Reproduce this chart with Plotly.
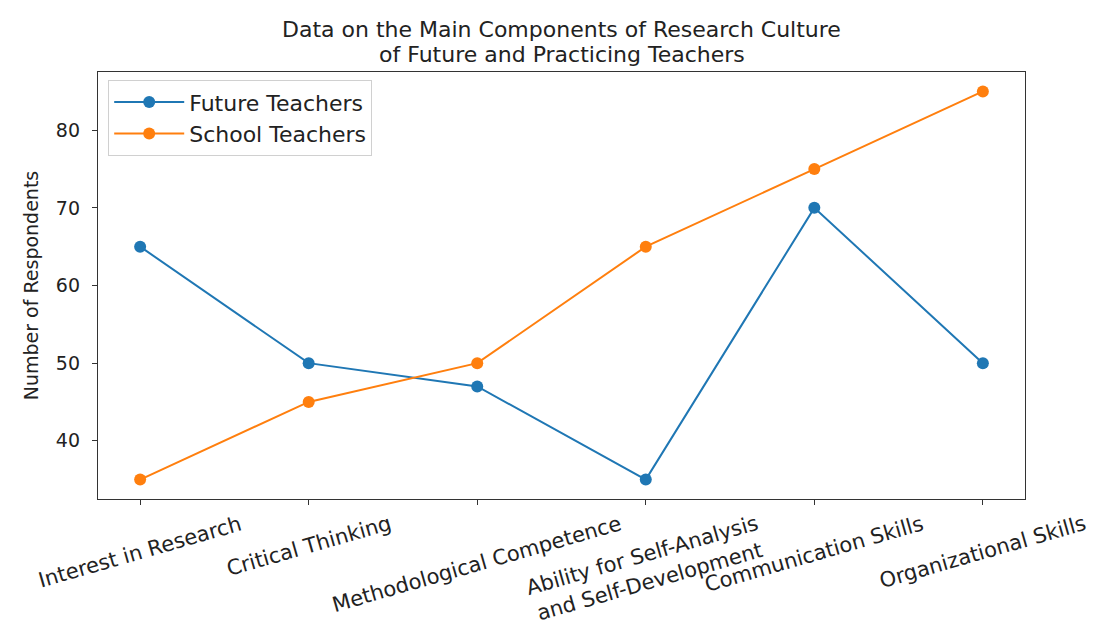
import plotly.graph_objects as go

categories = ["Interest in Research", "Critical Thinking", "Methodological Competence",
              "Ability for Self-Analysis and Self-Development", "Communication Skills",
              "Organizational Skills"]
tick_labels = ["Interest in Research", "Critical Thinking", "Methodological Competence",
               "Ability for Self-Analysis<br>and Self-Development", "Communication Skills",
               "Organizational Skills"]
future_teachers = [65, 50, 47, 35, 70, 50]
school_teachers = [35, 45, 50, 65, 75, 85]
y_ticks = [40, 50, 60, 70, 80]
title_lines = ["Data on the Main Components of Research Culture",
               "of Future and Practicing Teachers"]

BLUE = "#1f77b4"
ORANGE = "#ff7f0e"
FONT = "DejaVu Sans"

fig = go.Figure()
fig.add_trace(go.Scatter(x=categories, y=future_teachers, mode="lines+markers",
                         name="Future Teachers",
                         line=dict(color=BLUE, width=2),
                         marker=dict(color=BLUE, size=12)))
fig.add_trace(go.Scatter(x=categories, y=school_teachers, mode="lines+markers",
                         name="School Teachers",
                         line=dict(color=ORANGE, width=2),
                         marker=dict(color=ORANGE, size=12)))

annotations = []
for cat, lab in zip(categories, tick_labels):
    annotations.append(dict(x=cat, y=0, xref="x", yref="paper", text=lab,
                            showarrow=False, textangle=-16, xanchor="center",
                            yanchor="top", yshift=-11, align="center", borderpad=0,
                            font=dict(family=FONT, size=21, color="#222222")))
annotations.append(dict(x=0.5, y=1 + 43 / 427, xref="paper", yref="paper",
                        text=title_lines[0], showarrow=False, xanchor="center",
                        yanchor="middle", borderpad=0,
                        font=dict(family=FONT, size=22, color="#222222")))
annotations.append(dict(x=0.5, y=1 + 17 / 427, xref="paper", yref="paper",
                        text=title_lines[1], showarrow=False, xanchor="center",
                        yanchor="middle", borderpad=0,
                        font=dict(family=FONT, size=22, color="#222222")))

fig.update_layout(
    width=1102, height=624,
    margin=dict(l=98, r=77, t=72, b=125),
    paper_bgcolor="white", plot_bgcolor="white",
    font=dict(family=FONT, color="#222222"),
    showlegend=True,
    legend=dict(x=0.011, y=0.981, xanchor="left", yanchor="top",
                bgcolor="rgba(255,255,255,0.8)", bordercolor="#d0d0d0", borderwidth=1,
                font=dict(family=FONT, size=22, color="#222222"), itemwidth=70,
                tracegroupgap=0),
    annotations=annotations,
)
fig.update_xaxes(type="category", categoryarray=categories, range=[-0.25, 5.25],
                 showticklabels=False, ticks="outside", ticklen=5, tickwidth=1,
                 tickcolor="#333333", showline=True, mirror=True, linecolor="#333333",
                 linewidth=1.3, showgrid=False, zeroline=False)
fig.update_yaxes(range=[32.5, 87.5], tickvals=y_ticks, ticks="outside", ticklen=5,
                 tickwidth=1, tickcolor="#333333", showline=True, mirror=True,
                 linecolor="#333333", linewidth=1.3, showgrid=False, zeroline=False,
                 ticklabelstandoff=8,
                 tickfont=dict(family=FONT, size=19, color="#222222"),
                 title=dict(text="Number of Respondents", standoff=12,
                            font=dict(family=FONT, size=19, color="#222222")))

fig.write_html("out.html")
